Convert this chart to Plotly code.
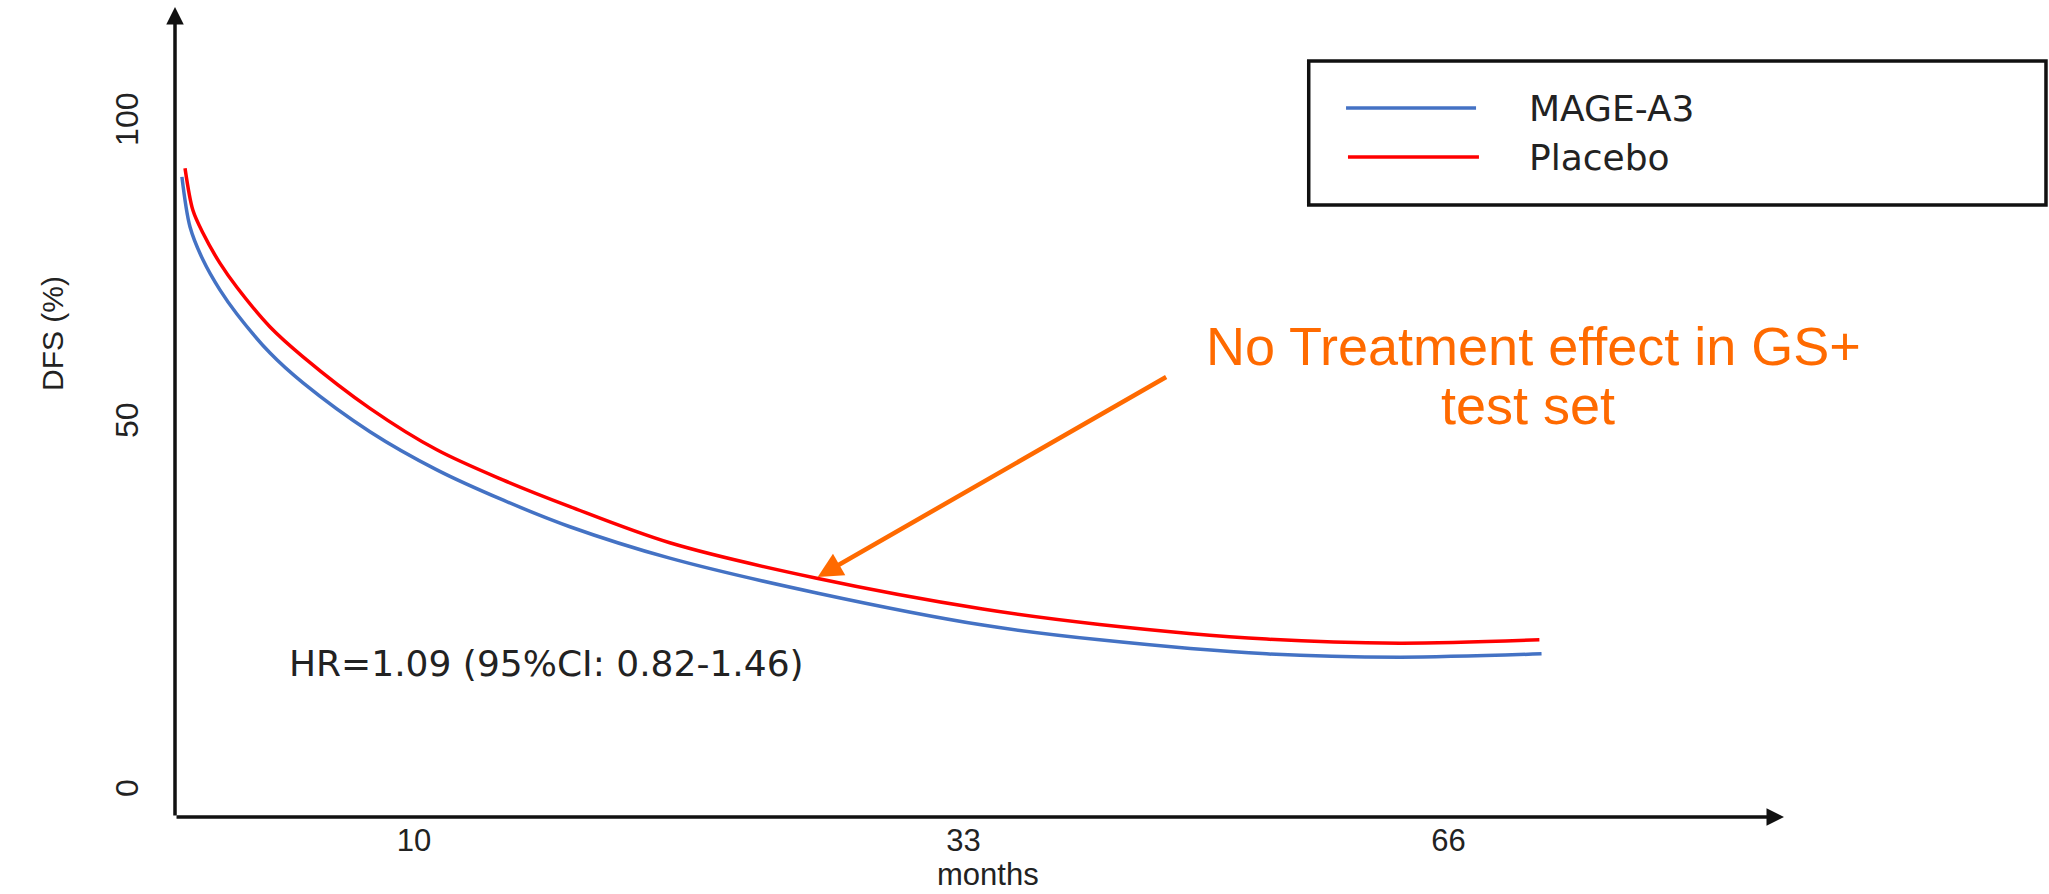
import plotly.graph_objects as go

# ---- data ----
placebo_months = [0.42, 0.75, 1.17, 1.88, 2.59, 3.97, 5.36, 8.16, 10.96, 13.72,
                  16.53, 20.71, 26.86, 33.81, 38.70, 45.69, 51.26, 57.11]
placebo_dfs = [93.4, 87.1, 83.7, 79.2, 75.6, 69.7, 65.2, 57.5, 51.3, 46.8,
               42.8, 37.4, 32.1, 27.5, 25.2, 23.0, 22.4, 22.9]

mage_months = [0.29, 0.63, 1.17, 1.88, 2.59, 3.97, 5.36, 8.16, 10.96, 13.72,
               16.53, 20.71, 26.86, 33.81, 38.70, 45.69, 51.26, 57.20]
mage_dfs = [92.1, 84.6, 79.7, 75.2, 71.6, 65.8, 61.3, 54.0, 48.3, 43.8,
            39.8, 35.1, 29.9, 25.1, 22.9, 20.8, 20.3, 20.8]

# tick labels as printed in the reference (the original's labels are unevenly spaced)
x_tick_text = ["10", "33", "66"]
x_tick_vals = [10, 33, 53.3]
y_tick_text = ["0", "50", "100"]
y_tick_vals = [0, 55, 100]

series_names = ["MAGE-A3", "Placebo"]
hr_text = "HR=1.09 (95%CI: 0.82-1.46)"
callout_lines = ["No Treatment effect in GS+", "test set"]
arrow_tip = (26.9, 32.3)
arrow_tail = (41.55, 62.3)

BLUE = "#4472C4"
RED = "#FF0000"
ORANGE = "#FF6A00"
AXIS_FONT = "Liberation Sans, Arial, sans-serif"
TEXT_FONT = "DejaVu Sans, Verdana, sans-serif"

fig = go.Figure()
fig.add_trace(go.Scatter(x=mage_months, y=mage_dfs, mode="lines", name=series_names[0],
                         line=dict(color=BLUE, width=3.5, shape="spline", smoothing=0.9)))
fig.add_trace(go.Scatter(x=placebo_months, y=placebo_dfs, mode="lines", name=series_names[1],
                         line=dict(color=RED, width=3.5, shape="spline", smoothing=0.9)))

W, H = 2049, 894
L, R, T, B = 175, 259, 7, 77

fig.update_layout(
    width=W, height=H,
    margin=dict(l=L, r=R, t=T, b=B),
    paper_bgcolor="white", plot_bgcolor="white",
    showlegend=False,
    xaxis=dict(range=[0, 67.6], showgrid=False, zeroline=False, showline=False,
               tickvals=x_tick_vals, ticktext=x_tick_text, ticks="",
               tickfont=dict(family=AXIS_FONT, size=31, color="#222"),
               ticklabelstandoff=2, fixedrange=True),
    yaxis=dict(range=[-3.59, 117.49], showgrid=False, zeroline=False, showline=False,
               tickvals=y_tick_vals, ticktext=y_tick_text, ticks="", tickangle=-90,
               tickfont=dict(family=AXIS_FONT, size=32, color="#222"),
               ticklabelstandoff=30, fixedrange=True),
)

def txt(x, y, text, size, family, color="#222", xanchor="center", angle=0):
    return dict(xref="paper", yref="paper", x=x, y=y, text=text, showarrow=False,
                xanchor=xanchor, yanchor="middle", textangle=angle,
                font=dict(family=family, size=size, color=color))

anns = []
# axis lines with arrowheads
anns.append(dict(xref="paper", yref="paper", x=0, y=1, ax=0, ay=810, axref="pixel", ayref="pixel",
                 showarrow=True, arrowhead=2, arrowsize=1.0, arrowwidth=3.5, arrowcolor="#111", text=""))
anns.append(dict(xref="paper", yref="paper", x=0.9963, y=0, ax=-1609, ay=0,
                 showarrow=True, arrowhead=2, arrowsize=1.0, arrowwidth=3.5, arrowcolor="#111", text=""))
# axis titles
anns.append(txt(-0.0762, 0.5975, "DFS (%)", 30, AXIS_FONT, angle=-90))
anns.append(txt(0.5034, -0.0716, "months", 31, AXIS_FONT))
# HR text
anns.append(txt(0.0693, 0.189, hr_text, 36, TEXT_FONT, xanchor="left"))
# callout text
anns.append(txt(0.841, 0.5815, callout_lines[0], 54, AXIS_FONT, color=ORANGE))
anns.append(txt(0.838, 0.5086, callout_lines[1], 54, AXIS_FONT, color=ORANGE))
# callout arrow
anns.append(dict(xref="x", yref="y", axref="x", ayref="y",
                 x=arrow_tip[0], y=arrow_tip[1], ax=arrow_tail[0], ay=arrow_tail[1],
                 showarrow=True, arrowhead=2, arrowsize=1.1, arrowwidth=4.5, arrowcolor=ORANGE, text=""))
# custom legend text
anns.append(txt(0.8372, 0.8753, series_names[0], 36, TEXT_FONT, xanchor="left"))
anns.append(txt(0.8372, 0.8148, series_names[1], 36, TEXT_FONT, xanchor="left"))
fig.update_layout(annotations=anns)

shapes = [
    dict(type="rect", xref="paper", yref="paper", x0=0.702, x1=1.1585, y0=0.7556, y1=0.9333,
         line=dict(color="#111", width=3.5), fillcolor="rgba(0,0,0,0)"),
    dict(type="line", xref="paper", yref="paper", x0=0.7251, x1=0.8056, y0=0.8753, y1=0.8753,
         line=dict(color=BLUE, width=3.5)),
    dict(type="line", xref="paper", yref="paper", x0=0.7263, x1=0.8074, y0=0.8148, y1=0.8148,
         line=dict(color=RED, width=3.5)),
]
fig.update_layout(shapes=shapes)

fig.write_html("out.html")
